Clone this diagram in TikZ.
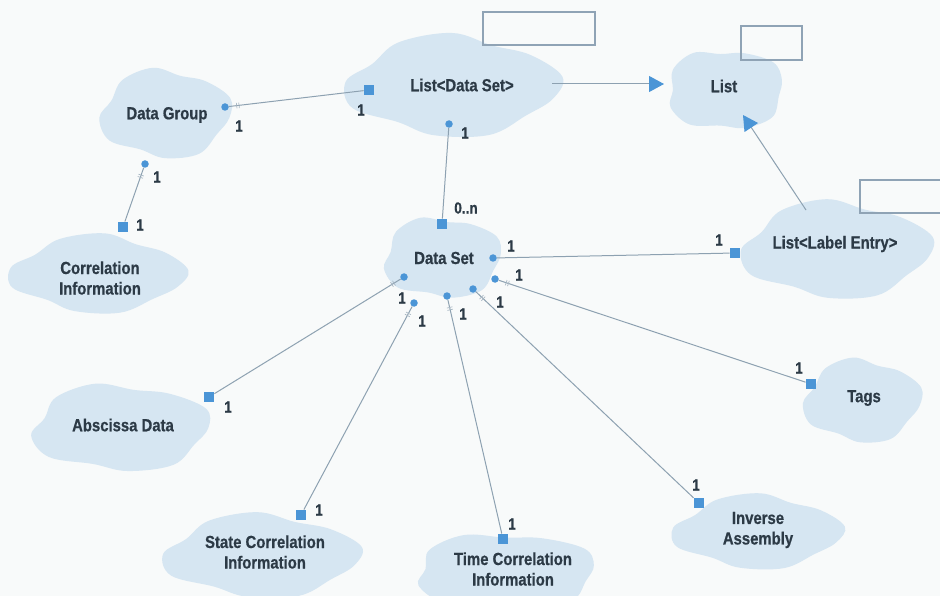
\documentclass[tikz,border=0pt]{standalone}
\usepackage{fontspec}
\setmainfont{Liberation Sans}
\newfontfamily\lblfont[FakeStretch=0.85,FakeBold=0.6]{Liberation Sans}
\usetikzlibrary{arrows.meta,decorations.markings}
\definecolor{blobfill}{HTML}{D6E6F2}
\definecolor{markblue}{HTML}{4B95D6}
\definecolor{linecol}{HTML}{8DA1B1}
\definecolor{txtcol}{HTML}{2C3A46}
\definecolor{rectcol}{HTML}{8FA3B5}
\definecolor{bgcol}{HTML}{F8FAFA}
\definecolor{tickcol}{HTML}{A9B8C4}
\newcommand\blob[5]{%
  \begin{scope}[shift={(#1,#2)},x=#3pt,y=#4pt]
    \fill[blobfill] plot[smooth cycle,tension=0.6] coordinates {
      ({0+#5}:1.02) ({30+#5}:0.93) ({55+#5}:0.86) ({80+#5}:1.02)
      ({110+#5}:0.97) ({140+#5}:0.84) ({165+#5}:0.97) ({195+#5}:1.0)
      ({225+#5}:0.85) ({250+#5}:0.96) ({280+#5}:1.0) ({310+#5}:0.88)
      ({335+#5}:0.95)};
  \end{scope}}
\tikzset{
  lbl/.style={font=\lblfont\bfseries\fontsize{17.5}{20.5}\selectfont, text=txtcol, align=center, inner sep=0pt},
  mult/.style={font=\lblfont\bfseries\fontsize{16}{18}\selectfont, text=txtcol, inner sep=0pt},
  dotm/.style={circle, fill=markblue, inner sep=0pt, minimum size=7.5pt},
  sqm/.style={rectangle, fill=markblue, inner sep=0pt, minimum size=10.5pt},
  conn/.style={draw=linecol, line width=1pt},
  dbltick/.style={postaction={decorate,decoration={markings,mark=at position 9pt with {\draw[tickcol,line width=0.7pt] (-1.2pt,-2.8pt)--(-1.2pt,2.8pt) (1.2pt,-2.8pt)--(1.2pt,2.8pt);}}}},
  emptybox/.style={draw=rectcol, line width=1.1pt},
  gen/.style={conn, -{Triangle[length=15pt,width=16pt,color=markblue]}}
}
\begin{document}
\begin{tikzpicture}[x=1pt,y=-1pt]
\fill[bgcol] (0,0) rectangle (940,596);
\useasboundingbox (0,0) rectangle (940,596);
% clouds
\blob{452}{86}{110}{52}{10}
\blob{725}{90}{62}{42}{40}
\blob{165}{114}{68}{46}{20}
\blob{97}{274}{90}{40}{5}
\blob{442}{258}{62}{42}{30}
\blob{836}{250}{98}{50}{15}
\blob{120}{428}{93}{45}{25}
\blob{261}{556}{101}{43}{12}
\blob{505}{572}{95}{40}{35}
\blob{757}{532}{87}{38}{8}
\blob{862}{401}{61}{43}{18}
% empty boxes
\draw[emptybox] (483,12) rectangle (595,45);
\draw[emptybox] (741,26) rectangle (802,60);
\draw[emptybox] (860,180) rectangle (942,213);
% class labels
\node[lbl] (lds) at (462,85) {List<Data Set>};
\node[lbl] (lst) at (724,86) {List};
\node[lbl] (dg) at (167,115) {Data Group};
\node[lbl] (ci) at (100,278) {Correlation\\Information};
\node[lbl] (ds) at (444,258) {Data Set};
\node[lbl] (lle) at (835,244) {List<Label Entry>};
\node[lbl] (ad) at (123,425) {Abscissa Data};
\node[lbl] (sci) at (265,552) {State Correlation\\Information};
\node[lbl] (tci) at (513,569) {Time Correlation\\Information};
\node[lbl] (ia) at (758,530) {Inverse\\Assembly};
\node[lbl] (tags) at (864,398) {Tags};
% markers
\node[dotm] (dgR) at (225,107) {};
\node[sqm] (ldsS) at (369,90) {};
\node[dotm] (ldsB) at (449,124) {};
\node[sqm] (dsT) at (442,224) {};
\node[dotm] (dgB) at (145,164) {};
\node[sqm] (ciT) at (123,227) {};
\node[dotm] (dsR) at (493,258) {};
\node[sqm] (lleL) at (735,253) {};
\node[dotm] (dsR2) at (495,279) {};
\node[sqm] (tagsS) at (811,384) {};
\node[dotm] (dsB4) at (473,289) {};
\node[sqm] (iaS) at (699,503) {};
\node[dotm] (dsB3) at (447,296) {};
\node[sqm] (tciS) at (503,539) {};
\node[dotm] (dsB2) at (414,303) {};
\node[sqm] (sciS) at (301,515) {};
\node[dotm] (dsL) at (404,277) {};
\node[sqm] (adS) at (209,397) {};
\coordinate (ldsR) at (552,84);
\coordinate (lstL) at (664,84);
\coordinate (lleT) at (806,210);
\coordinate (lstB) at (743,115);
% connectors
\draw[conn,dbltick] (dgR) -- (ldsS);
\draw[conn] (ldsB) -- (dsT);
\draw[conn,dbltick] (dgB) -- (ciT);
\draw[conn] (dsR) -- (lleL);
\draw[conn,dbltick] (dsR2) -- (tagsS);
\draw[conn,dbltick] (dsB4) -- (iaS);
\draw[conn,dbltick] (dsB3) -- (tciS);
\draw[conn,dbltick] (dsB2) -- (sciS);
\draw[conn,dbltick] (dsL) -- (adS);
\draw[gen] (ldsR) -- (lstL);
\draw[gen] (lleT) -- (lstB);
% multiplicities
\node[mult] (m1) at (239,126) {1};
\node[mult] (m2) at (361,110) {1};
\node[mult] (m3) at (465,133) {1};
\node[mult] (m4) at (466,208) {0..n};
\node[mult] (m5) at (157,177) {1};
\node[mult] (m6) at (140,225) {1};
\node[mult] (m7) at (511,246) {1};
\node[mult] (m8) at (719,240) {1};
\node[mult] (m9) at (519,275) {1};
\node[mult] (m10) at (799,368) {1};
\node[mult] (m11) at (500,302) {1};
\node[mult] (m12) at (696,485) {1};
\node[mult] (m13) at (463,314) {1};
\node[mult] (m14) at (512,524) {1};
\node[mult] (m15) at (422,321) {1};
\node[mult] (m16) at (319,510) {1};
\node[mult] (m17) at (402,298) {1};
\node[mult] (m18) at (228,407) {1};
\end{tikzpicture}
\end{document}
